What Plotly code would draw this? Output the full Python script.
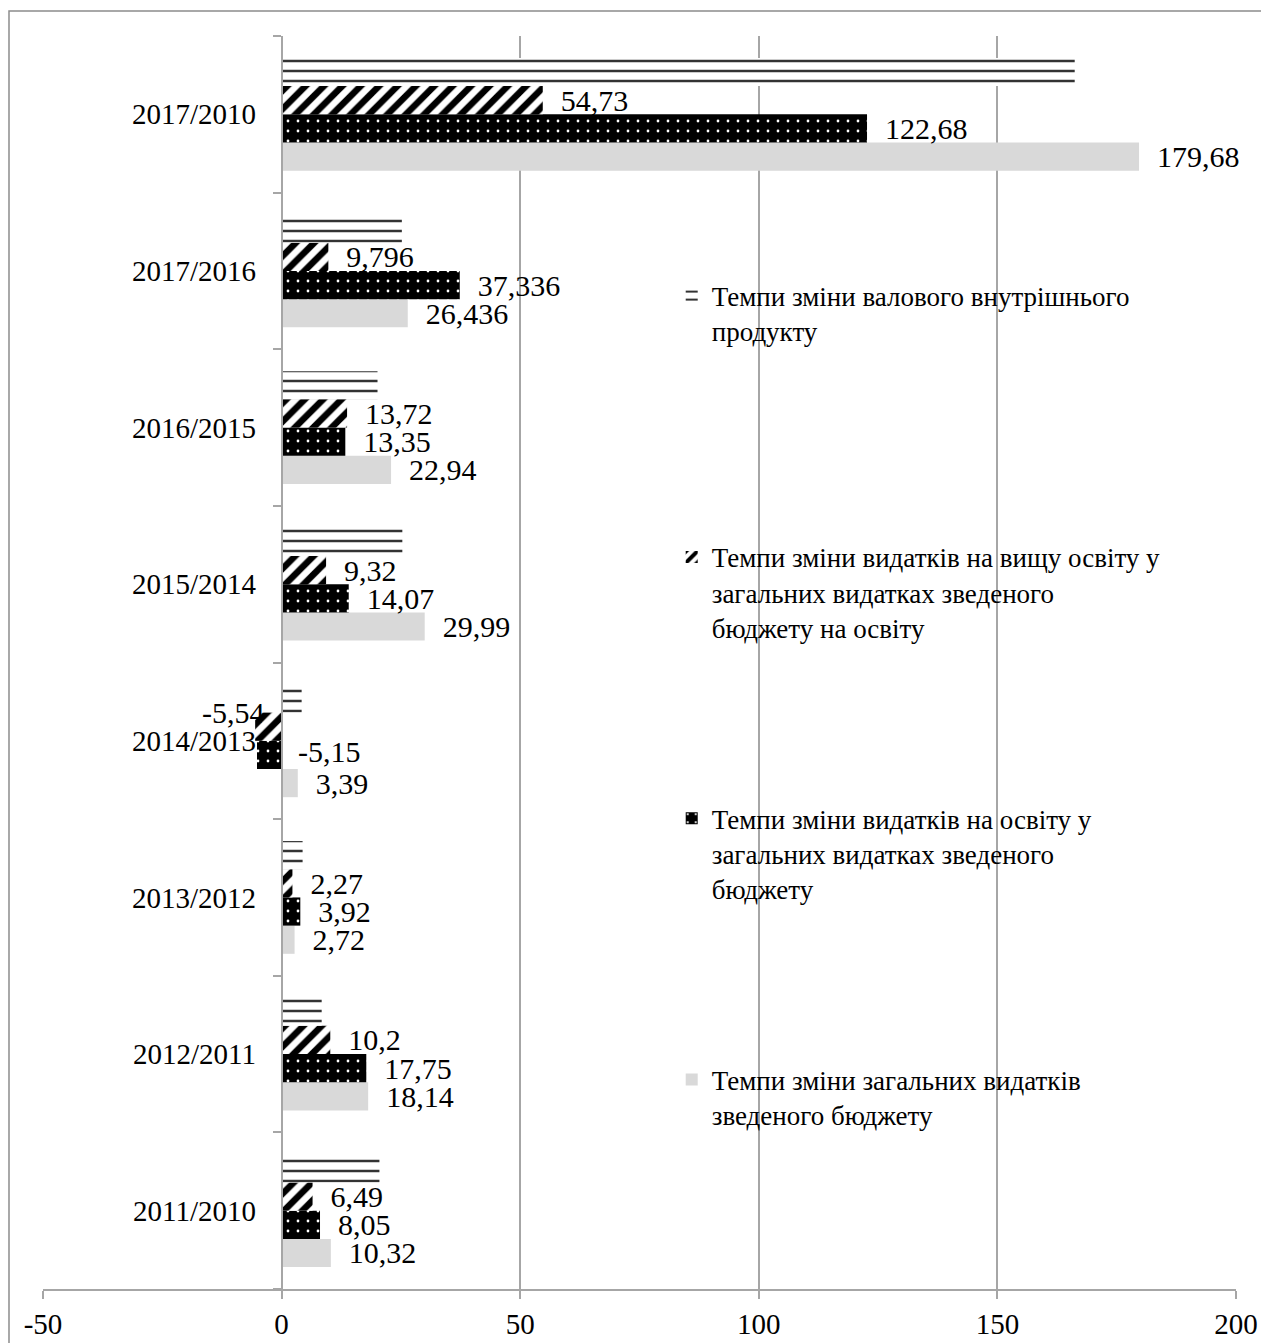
import plotly.graph_objects as go

categories = ["2011/2010", "2012/2011", "2013/2012", "2014/2013",
              "2015/2014", "2016/2015", "2017/2016", "2017/2010"]

gdp = [20.5, 8.4, 4.4, 4.2, 25.3, 20.1, 25.2, 166.2]
higher_edu = [6.49, 10.2, 2.27, -5.54, 9.32, 13.72, 9.796, 54.73]
education = [8.05, 17.75, 3.92, -5.15, 14.07, 13.35, 37.336, 122.68]
total_budget = [10.32, 18.14, 2.72, 3.39, 29.99, 22.94, 26.436, 179.68]

x_ticks = [-50, 0, 50, 100, 150, 200]
x_ticktext = ["-50", "0", "50", "100", "150", "200"]

names = {
    "gdp": "Темпи зміни валового внутрішнього<br>продукту<br> ",
    "higher": "Темпи зміни видатків на вищу освіту у<br>загальних видатках зведеного<br>бюджету на освіту",
    "edu": "Темпи зміни видатків на освіту у<br>загальних видатках зведеного<br>бюджету",
    "total": "Темпи зміни загальних видатків<br>зведеного бюджету<br> ",
}

FONT = "Liberation Serif"
FS_LAB = 30
FS_TICK = 29
FS_LEG = 27


def fmt(v):
    return str(v).replace(".", ",")


def lab(vals):
    return ["  " + fmt(v) for v in vals]


def pos(vals):
    return ["none" if v < 0 else "outside" for v in vals]


fig = go.Figure()

fig.add_trace(go.Bar(
    y=categories, x=total_budget, orientation="h", name=names["total"],
    legendgroup="d", legendrank=4,
    marker=dict(color="#d9d9d9", line=dict(width=0)),
    text=lab(total_budget), textposition=pos(total_budget), constraintext="none",
    textfont=dict(family=FONT, size=FS_LAB, color="black"), cliponaxis=False,
))

fig.add_trace(go.Bar(
    y=categories, x=education, orientation="h", name=names["edu"],
    legendgroup="c", legendrank=3,
    marker=dict(color="black", line=dict(width=0),
                pattern=dict(shape=".", bgcolor="black", fgcolor="white",
                             size=10, solidity=0.06, fillmode="replace")),
    text=lab(education), textposition=pos(education), constraintext="none",
    textfont=dict(family=FONT, size=FS_LAB, color="black"), cliponaxis=False,
))

fig.add_trace(go.Bar(
    y=categories, x=higher_edu, orientation="h", name=names["higher"],
    legendgroup="b", legendrank=2,
    marker=dict(color="white", line=dict(width=0),
                pattern=dict(shape="/", bgcolor="white", fgcolor="black",
                             size=13, solidity=0.5, fillmode="replace")),
    text=lab(higher_edu), textposition=pos(higher_edu), constraintext="none",
    textfont=dict(family=FONT, size=FS_LAB, color="black"), cliponaxis=False,
))

fig.add_trace(go.Bar(
    y=categories, x=gdp, orientation="h", name=names["gdp"],
    legendgroup="a", legendrank=1,
    marker=dict(color="white", line=dict(width=0),
                pattern=dict(shape="-", bgcolor="white", fgcolor="#333333",
                             size=10, solidity=0.25, fillmode="replace")),
    cliponaxis=False,
))

# labels of negative bars, placed like in the original chart
bargap = 0.28
slot = (1 - bargap) / 4


def slot_y(i, k):
    return i - (1 - bargap) / 2 + slot * (k + 0.5)


for i, v in enumerate(education):
    if v < 0:
        fig.add_annotation(
            x=0, y=slot_y(i, 1), xref="x", yref="y",
            text=fmt(v), showarrow=False,
            xanchor="left", yanchor="middle", xshift=14, yshift=3,
            font=dict(family=FONT, size=FS_LAB, color="black"),
        )
for i, v in enumerate(higher_edu):
    if v < 0:
        fig.add_annotation(
            x=v, y=slot_y(i, 2), xref="x", yref="y",
            text=fmt(v), showarrow=False,
            xanchor="right", yanchor="middle", xshift=12, yshift=14,
            font=dict(family=FONT, size=FS_LAB, color="black"),
        )

fig.add_shape(type="rect", xref="paper", yref="paper",
              x0=-0.0285, x1=1.05, y0=-0.06, y1=1.02,
              line=dict(color="#8c8c8c", width=1.5), fillcolor="rgba(0,0,0,0)")

fig.update_layout(
    width=1261, height=1335,
    margin=dict(l=35, r=33, t=28, b=54, autoexpand=False),
    barmode="group", bargap=bargap, bargroupgap=0,
    plot_bgcolor="white", paper_bgcolor="white",
    font=dict(family=FONT, size=FS_TICK, color="black"),
    showlegend=True,
    legend=dict(
        x=0.527, y=0.812, xanchor="left", yanchor="top",
        traceorder="grouped", tracegroupgap=153,
        valign="top", bgcolor="rgba(0,0,0,0)",
        font=dict(family=FONT, size=FS_LEG, color="black"),
        itemwidth=30,
    ),
    xaxis=dict(
        range=[-50, 200], tickvals=x_ticks, ticktext=x_ticktext,
        showgrid=True, gridcolor="#a6a6a6", gridwidth=1.5,
        zeroline=False, showline=True, linecolor="#a6a6a6", linewidth=1.5,
        ticks="outside", ticklen=8, tickcolor="#a6a6a6", tickwidth=1.5,
        tickfont=dict(family=FONT, size=FS_TICK, color="black"),
        domain=[0, 1], automargin=False,
    ),
    yaxis=dict(
        categoryorder="array", categoryarray=categories,
        anchor="free", position=0.2,
        showline=True, linecolor="#a6a6a6", linewidth=1.5,
        ticks="outside", ticklen=8, tickcolor="#a6a6a6", tickwidth=1.5,
        tickson="boundaries", showgrid=False,
        ticklabelstandoff=19, automargin=False,
        tickfont=dict(family=FONT, size=FS_TICK, color="black"),
    ),
)

fig.write_html("out.html")
